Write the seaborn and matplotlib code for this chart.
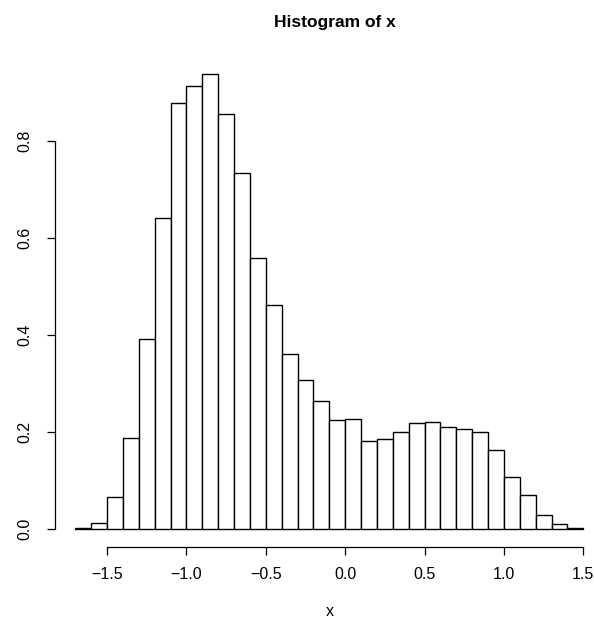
import numpy as np
import pandas as pd
import matplotlib
matplotlib.use("Agg")
import matplotlib.pyplot as plt
import seaborn as sns

# Histogram data (density per bin)
breaks = [-1.7, -1.6, -1.5, -1.4, -1.3, -1.2, -1.1, -1.0, -0.9, -0.8, -0.7,
          -0.6, -0.5, -0.4, -0.3, -0.2, -0.1, 0.0, 0.1, 0.2, 0.3, 0.4, 0.5,
          0.6, 0.7, 0.8, 0.9, 1.0, 1.1, 1.2, 1.3, 1.4, 1.5]
density = [0.001, 0.012, 0.064, 0.186, 0.391, 0.640, 0.878, 0.913, 0.937,
           0.854, 0.734, 0.558, 0.462, 0.360, 0.307, 0.264, 0.224, 0.225,
           0.181, 0.184, 0.199, 0.217, 0.220, 0.210, 0.206, 0.199, 0.162,
           0.107, 0.070, 0.028, 0.009, 0.002]
x_ticks = [-1.5, -1.0, -0.5, 0.0, 0.5, 1.0, 1.5]
x_tick_labels = ["\u22121.5", "\u22121.0", "\u22120.5", "0.0", "0.5", "1.0", "1.5"]
y_ticks = [0.0, 0.2, 0.4, 0.6, 0.8]
y_tick_labels = ["0.0", "0.2", "0.4", "0.6", "0.8"]
title = "Histogram of x"
xlabel = "x"

sns.set_style("white")
plt.rcParams['font.family'] = ['Liberation Sans', 'DejaVu Sans']
plt.rcParams['text.color'] = 'black'
plt.rcParams['axes.labelcolor'] = 'black'
plt.rcParams['xtick.color'] = 'black'
plt.rcParams['ytick.color'] = 'black'

centers = [(breaks[i] + breaks[i + 1]) / 2 for i in range(len(density))]
df = pd.DataFrame({"x": centers, "w": density})

fig = plt.figure(figsize=(5.94, 6.21), dpi=100)
ax = fig.add_axes([55 / 594, 1 - 546.7 / 621, 539 / 594, (546.7 - 56) / 621])

sns.histplot(data=df, x="x", weights="w", bins=breaks, stat="count",
             color="white", edgecolor="black", linewidth=1.0, alpha=1,
             ax=ax)

xr = breaks[-1] - breaks[0]
xmin = breaks[0] - 0.04 * xr
ax.set_xlim(xmin, xmin + 539 / 158.75)
ymax = max(density)
ax.set_ylim(-0.04 * ymax, ymax * 1.04)

for s in ["top", "right"]:
    ax.spines[s].set_visible(False)
for s in ["left", "bottom"]:
    ax.spines[s].set_color("black")
    ax.spines[s].set_linewidth(0.9)
ax.spines["bottom"].set_bounds(x_ticks[0], x_ticks[-1])
ax.spines["left"].set_bounds(y_ticks[0], y_ticks[-1])

ax.set_xticks(x_ticks)
ax.set_xticklabels(x_tick_labels)
ax.set_yticks(y_ticks)
ax.set_yticklabels(y_tick_labels, rotation=90, va="center")
ax.tick_params(axis="both", direction="out", length=5.5, width=0.9,
               color="black", labelcolor="black", labelsize=11.5, pad=9,
               bottom=True, left=True)
ax.tick_params(axis="y", pad=11)
ax.set_xlabel("")
ax.set_ylabel("")
ax.grid(False)

fig.text(330 / 594, 1 - 612 / 621, xlabel, ha="center", va="center",
         fontsize=11.5, color="black")
fig.text(335 / 594, 1 - 22 / 621, title, ha="center", va="center",
         fontsize=12.5, fontweight="bold", color="black")

fig.savefig("out.png", dpi=100)
